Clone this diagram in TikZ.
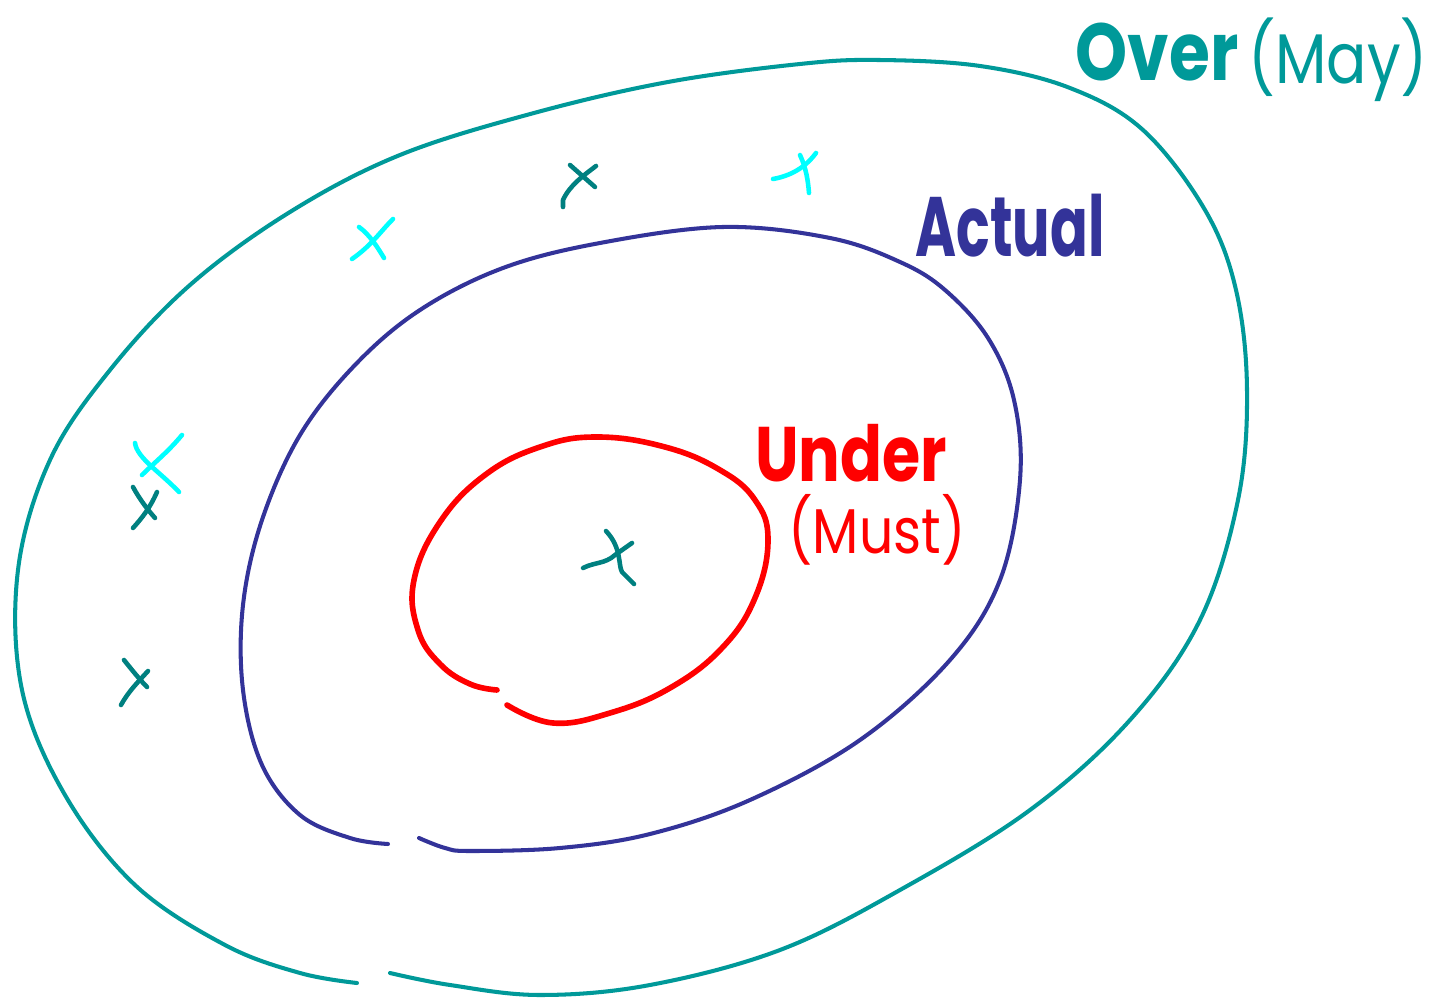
\documentclass[tikz,border=0pt]{standalone}
\usepackage{fontspec}
\setmainfont{Poppins}
\usepackage{graphicx}
\definecolor{overc}{RGB}{0,153,153}
\definecolor{crossteal}{RGB}{0,128,128}
\definecolor{crosscyan}{RGB}{0,255,255}
\definecolor{actualc}{RGB}{51,51,153}
\definecolor{underc}{RGB}{255,0,0}
\begin{document}
\begin{tikzpicture}[x=0.02cm,y=-0.02cm,line cap=round,line join=round,
  overline/.style={draw=overc,line width=2.3pt},
  actualline/.style={draw=actualc,line width=2.3pt},
  underline/.style={draw=underc,line width=3.2pt},
  tealx/.style={draw=crossteal,line width=2.6pt},
  cyanx/.style={draw=crosscyan,line width=2.6pt},
  lbl/.style={inner sep=0pt,anchor=center}]
\useasboundingbox (0,0) rectangle (1431,999);
\fill[white] (0,0) rectangle (1431,999);

% Over (outer) loop
\draw[overline] plot[smooth,tension=0.6] coordinates {
 (390,973) (450,985) (540,995) (650,985) (780,950) (900,890) (1030,810)
 (1130,720) (1200,620) (1238,500) (1247,390) (1236,290) (1205,210)
 (1143,130) (1070,88) (980,66) (878,60) (800,64) (668,82) (534,113)
 (400,155) (290,212) (190,285) (110,370) (50,460) (18,570) (22,690) (65,795)
 (135,885) (225,945) (300,973) (357,983)};

% Actual loop
\draw[actualline] plot[smooth,tension=0.6] coordinates {
 (419,838) (445,848) (470,851) (560,848) (650,834) (750,800) (860,740)
 (950,660) (1000,580) (1020,480) (1014,400) (988,338) (945,290)
 (900,262) (830,238) (723,227) (600,243) (503,268) (420,310) (355,365)
 (300,435) (262,520) (243,605) (243,690) (262,765) (300,815)
 (350,838) (388,844)};

% Under loop
\draw[underline] plot[smooth,tension=0.7] coordinates {
 (507,705) (553,723) (610,713) (670,688) (722,648) (755,598) (768,540)
 (755,500) (720,470) (665,447) (597,437) (540,447) (485,475) (440,522)
 (414,580) (418,630) (440,664) (470,684) (497,690)};

% crosses
\draw[tealx] (570,165) -- (595,187);
\draw[tealx] (596,166) .. controls (583,176) and (570,185) .. (563,200) -- (563,207);
\draw[cyanx] (773,179) .. controls (790,176) and (805,168) .. (816,153);
\draw[cyanx] (800,155) .. controls (806,168) and (808,180) .. (809,193);
\draw[cyanx] (359,227) .. controls (370,235) and (378,248) .. (384,258);
\draw[cyanx] (393,219) .. controls (380,232) and (372,245) .. (352,259);
\draw[cyanx] (135,443) .. controls (137,458) and (160,472) .. (179,492);
\draw[cyanx] (182,435) .. controls (168,452) and (155,462) .. (142,475);
\draw[tealx] (133,487) .. controls (140,500) and (148,510) .. (155,518);
\draw[tealx] (157,492) .. controls (150,508) and (142,518) .. (133,528);
\draw[tealx] (124,660) .. controls (132,670) and (140,680) .. (147,687);
\draw[tealx] (148,671) .. controls (138,682) and (128,692) .. (121,705);
\draw[tealx] (583,568) .. controls (595,562) and (605,564) .. (615,555) -- (632,543);
\draw[tealx] (606,531) .. controls (622,548) and (618,565) .. (622,572) -- (634,584);

% labels
\node[lbl,text=overc,font=\fontsize{46}{50}\selectfont\bfseries] (over) at (1157,52) {\scalebox{0.82}[1]{Over}};
\node[lbl,text=overc,font=\fontsize{40}{44}\selectfont] (may) at (1338,60) {\scalebox{0.85}[1]{(May)}};
\node[lbl,text=actualc,font=\fontsize{48}{52}\selectfont\bfseries] (actual) at (1010,226) {\scalebox{0.66}[1]{Actual}};
\node[lbl,text=underc,font=\fontsize{44}{48}\selectfont\bfseries] (under) at (851,453) {\scalebox{0.8}[1]{Under}};
\node[lbl,text=underc,font=\fontsize{36}{40}\selectfont] (must) at (877,530) {\scalebox{0.85}[1]{(Must)}};
\end{tikzpicture}
\end{document}
